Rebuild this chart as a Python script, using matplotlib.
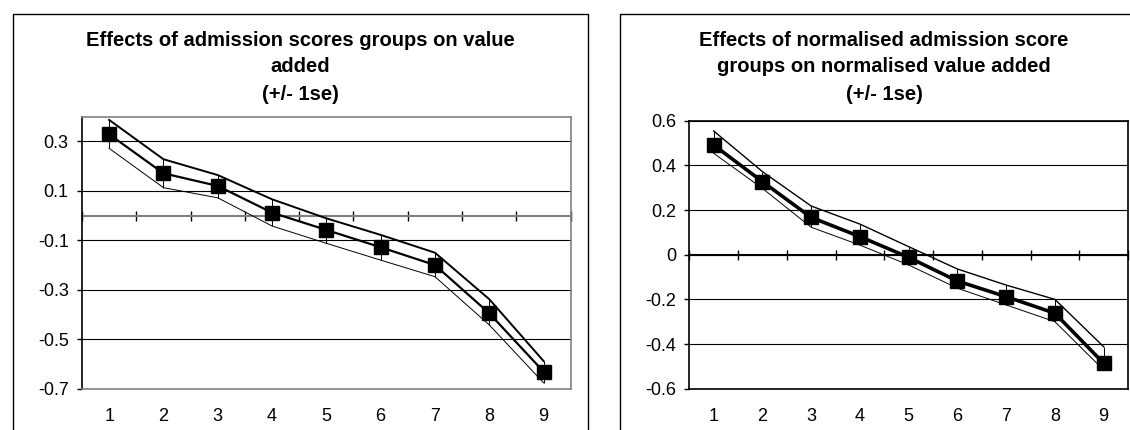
import numpy as np
from matplotlib import pyplot as plt
from matplotlib.patches import Rectangle

plt.rcParams['font.family'] = ['Liberation Sans', 'DejaVu Sans']

groups = [1, 2, 3, 4, 5, 6, 7, 8, 9]

# left chart: admission score groups
left_mean = [0.329, 0.171, 0.120, 0.012, -0.058, -0.128, -0.200, -0.395, -0.631]
left_upper = [0.387, 0.228, 0.164, 0.066, -0.011, -0.078, -0.150, -0.338, -0.588]
left_lower = [0.272, 0.113, 0.072, -0.042, -0.112, -0.180, -0.247, -0.442, -0.676]
left_yticks = [-0.7, -0.5, -0.3, -0.1, 0.1, 0.3]
left_title = ["Effects of admission scores groups on value", "added", "(+/- 1se)"]

# right chart: normalised admission score groups
right_mean = [0.491, 0.327, 0.167, 0.081, -0.012, -0.118, -0.188, -0.262, -0.486]
right_upper = [0.554, 0.372, 0.218, 0.137, 0.036, -0.064, -0.136, -0.200, -0.412]
right_lower = [0.454, 0.297, 0.123, 0.043, -0.046, -0.150, -0.225, -0.300, -0.516]
right_yticks = [-0.6, -0.4, -0.2, 0, 0.2, 0.4, 0.6]
right_title = ["Effects of normalised admission score",
               "groups on normalised value added", "(+/- 1se)"]


def draw(ax, mean, upper, lower, yticks, ylim, main_lw, up_lw, frame, zero_col):
    x = np.array(groups)
    mean = np.array(mean)
    up = np.array(upper)
    lo = np.array(lower)
    ax.plot(x, up, color='black', lw=up_lw, zorder=3)
    ax.plot(x, lo, color='black', lw=0.7, zorder=3)
    ax.errorbar(x, mean, yerr=[mean - lo, up - mean], fmt='none',
                ecolor='black', elinewidth=0.7, capsize=0, zorder=3)
    ax.plot(x, mean, color='black', lw=main_lw, marker='s', ms=10.5,
            mfc='black', mec='black', zorder=4)

    ax.set_xlim(0.5, 9.5)
    ax.set_ylim(*ylim)
    ax.set_yticks(yticks)
    ax.set_yticklabels([f'{v:g}' for v in yticks], fontsize=13)
    ax.set_xticks(x)
    ax.set_xticklabels([str(g) for g in groups], fontsize=13)
    ax.tick_params(axis='x', length=0, pad=14)
    ax.tick_params(axis='y', length=3.6, width=1, direction='out', pad=6,
                   color='black')
    ax.yaxis.grid(True, color='black', lw=0.8)
    ax.set_axisbelow(True)
    for side in ['top', 'right', 'bottom']:
        ax.spines[side].set_color(frame)
        ax.spines[side].set_linewidth(1.2)
    ax.spines['left'].set_color('black')
    ax.spines['left'].set_linewidth(1.2)

    # category axis crossing at zero, tick marks between groups
    frac = (0 - ylim[0]) / (ylim[1] - ylim[0])
    sec = ax.secondary_xaxis(frac)
    sec.set_xticks(np.arange(0.5, 10, 1))
    sec.set_xticklabels([])
    sec.tick_params(direction='inout', length=7, width=1, color='black')
    sec.spines['bottom'].set_color(zero_col)
    sec.spines['bottom'].set_linewidth(1.5)
    sec.spines['top'].set_color(zero_col)
    sec.spines['top'].set_linewidth(1.5)


fig = plt.figure(figsize=(11.3, 4.3), dpi=100)
W, H = 1130.0, 430.0

# chart boxes
fig.patches.append(Rectangle((13 / W, -0.1), (588 - 13) / W, (1 - 14 / H) + 0.1,
                             transform=fig.transFigure, fill=False,
                             edgecolor='black', lw=1, clip_on=False))
fig.patches.append(Rectangle((620 / W, -0.1), 0.5, (1 - 14 / H) + 0.1,
                             transform=fig.transFigure, fill=False,
                             edgecolor='black', lw=1, clip_on=False))

ax1 = fig.add_axes([82 / W, 1 - 388.7 / H, (570.7 - 82) / W, (388.7 - 116.7) / H])
draw(ax1, left_mean, left_upper, left_lower, left_yticks, (-0.7, 0.4),
     1.6, 1.4, '#808080', '#808080')

ax2 = fig.add_axes([689.3 / W, 1 - 388.7 / H, (1128 - 689.3) / W, (388.7 - 120.7) / H])
draw(ax2, right_mean, right_upper, right_lower, right_yticks, (-0.6, 0.6),
     2.6, 1.0, 'black', 'black')

for line, ypix in zip(left_title, [40, 66.7, 95]):
    fig.text(300.5 / W, 1 - ypix / H, line, ha='center', va='center',
             fontsize=14.5, fontweight='bold')
for line, ypix in zip(right_title, [40, 66.5, 94]):
    fig.text(884 / W, 1 - ypix / H, line, ha='center', va='center',
             fontsize=14.5, fontweight='bold')

fig.savefig('out.png', dpi=100)
